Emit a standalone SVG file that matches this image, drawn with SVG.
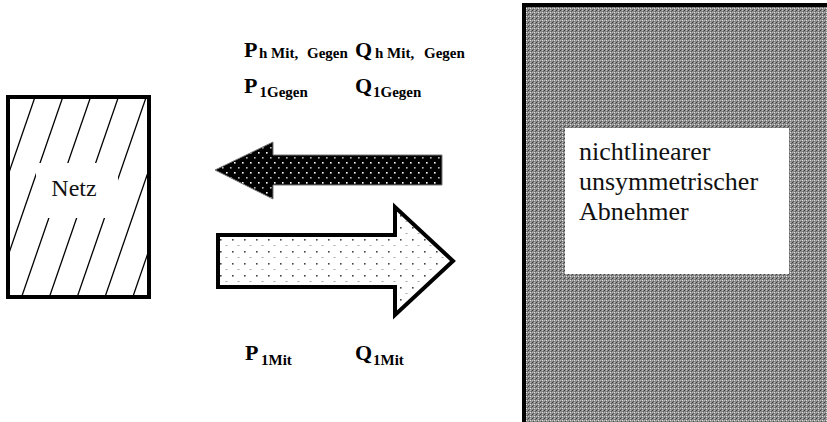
<svg xmlns="http://www.w3.org/2000/svg" width="827" height="422" viewBox="0 0 827 422">
<style>
text{font-family:"Liberation Serif","Times New Roman","DejaVu Serif",serif}
.lbl{font-weight:bold;fill:#000}
.big{font-size:22px}
.sub{font-size:15px}
.txt{fill:#111}
.hatch{stroke:#000;stroke-width:1.3}
</style>
<defs>
<pattern id="grey" x="0" y="0" width="4" height="4" patternUnits="userSpaceOnUse">
<rect width="4" height="4" fill="#8a8a8a"/>
<rect x="0" y="0" width="1" height="1" fill="#b8b8b8"/>
<rect x="2" y="2" width="1" height="1" fill="#b8b8b8"/>
<rect x="1" y="1" width="1" height="1" fill="#5a5a5a"/>
<rect x="3" y="3" width="1" height="1" fill="#5a5a5a"/>
<rect x="2" y="0" width="1" height="1" fill="#e8e8e8"/>
<rect x="0" y="2" width="1" height="1" fill="#3a3a3a"/>
</pattern>
<pattern id="darkdots" x="0" y="0" width="8" height="10" patternUnits="userSpaceOnUse">
<rect width="8" height="10" fill="#000"/>
<rect x="2" y="2" width="1.6" height="1.6" fill="#fff"/>
<rect x="6" y="7" width="1.6" height="1.6" fill="#bbb"/>
</pattern>
<pattern id="lightdots" x="216" y="234" width="12" height="12" patternUnits="userSpaceOnUse">
<rect width="12" height="12" fill="#fff"/>
<rect x="4" y="5" width="1.6" height="1.6" fill="#444"/>
<rect x="9.5" y="11" width="2" height="1" fill="#aaa"/>
</pattern>
<clipPath id="netzclip"><rect x="10" y="99" width="137" height="196"/></clipPath>
</defs>

<g id="netz">
<g clip-path="url(#netzclip)">
<line class="hatch" x1="35" y1="97" x2="-34" y2="297"/>
<line class="hatch" x1="62.8" y1="97" x2="-6.2" y2="297"/>
<line class="hatch" x1="90.6" y1="97" x2="21.6" y2="297"/>
<line class="hatch" x1="118.4" y1="97" x2="49.4" y2="297"/>
<line class="hatch" x1="146.2" y1="97" x2="77.2" y2="297"/>
<line class="hatch" x1="174" y1="97" x2="105" y2="297"/>
<line class="hatch" x1="201.8" y1="97" x2="132.8" y2="297"/>
</g>
<rect x="36" y="163" width="82" height="55" fill="#fff"/>
<rect x="8" y="97" width="141" height="200" fill="none" stroke="#000" stroke-width="4"/>
<text class="txt" x="74" y="196" font-size="24" text-anchor="middle" font-family="Liberation Serif, serif">Netz</text>
</g>

<g id="abnehmer">
<rect x="524" y="5" width="320" height="440" fill="url(#grey)" stroke="#000" stroke-width="4"/>
<rect x="565" y="128" width="224" height="146" fill="#fff"/>
<text class="txt" font-size="26" font-family="Liberation Serif, serif"><tspan x="579" y="160">nichtlinearer</tspan><tspan x="579" y="190">unsymmetrischer</tspan><tspan x="579" y="220">Abnehmer</tspan></text>
</g>

<g id="connectors">
<polygon id="arrow-gegen" points="215,170 273,142 273,155 442,155 442,185 273,185 273,199" fill="url(#darkdots)" stroke="#777" stroke-width="1"/>
<polygon id="arrow-mit" points="218,235 395,235 395,207 453,261 395,315 395,287 218,287" fill="url(#lightdots)" stroke="#000" stroke-width="4" stroke-linejoin="miter"/>
</g>

<g id="labels">
<text class="lbl big" x="244" y="57">P</text>
<text class="lbl sub" y="58"><tspan x="259">h Mit,</tspan><tspan x="307">Gegen</tspan></text>
<text class="lbl big" x="355" y="57">Q</text>
<text class="lbl sub" y="58"><tspan x="375">h Mit,</tspan><tspan x="424">Gegen</tspan></text>
<text class="lbl big" x="244" y="93">P</text>
<text class="lbl sub" x="259.5" y="97">1Gegen</text>
<text class="lbl big" x="355" y="93">Q</text>
<text class="lbl sub" x="373" y="97">1Gegen</text>
<text class="lbl big" x="245" y="360">P</text>
<text class="lbl sub" x="261" y="365">1Mit</text>
<text class="lbl big" x="355" y="360">Q</text>
<text class="lbl sub" x="373" y="365">1Mit</text>
</g>
</svg>
